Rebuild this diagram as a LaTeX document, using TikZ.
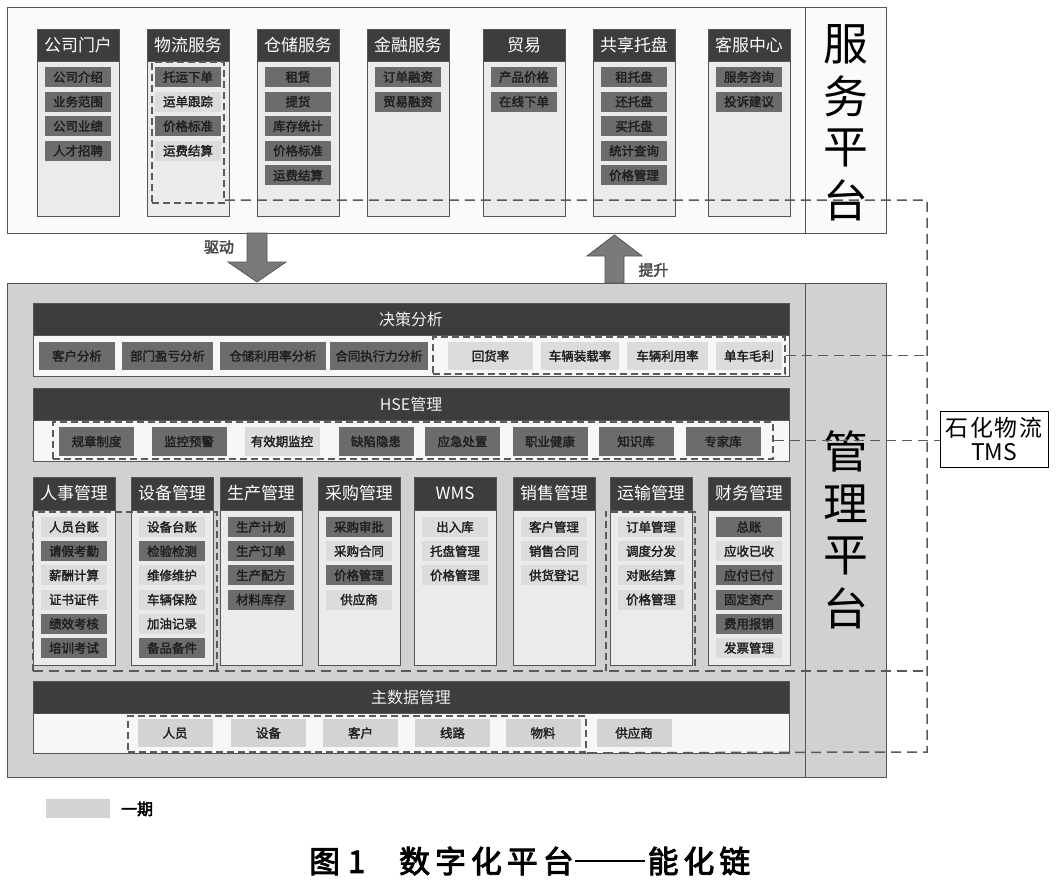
\documentclass[tikz,border=0pt]{standalone}
\usepackage{fontspec}
\setmainfont{Noto Sans CJK SC}
\newfontfamily\mfont[FakeBold=2.2]{Noto Sans CJK SC}
\newfontfamily\hfont[FakeBold=3]{Noto Sans CJK SC}
\usetikzlibrary{calc}
\definecolor{hdr}{HTML}{3D3D3D}
\definecolor{drk}{HTML}{6C6C6C}
\definecolor{lgt}{HTML}{DCDCDC}
\definecolor{colbg}{HTML}{EBEBEB}
\definecolor{mgbg}{HTML}{D1D1D1}
\definecolor{edge}{HTML}{555555}
\definecolor{busc}{HTML}{5A5A5A}
\definecolor{arrc}{HTML}{7A7A7A}
\newcommand\rbox[7]{%
  \pgfmathsetmacro\rbw{#4-#2}\pgfmathsetmacro\rbh{#5-#3}%
  \node[#6, minimum width=\rbw bp, minimum height=\rbh bp, inner sep=0pt] (#1) at ({(#2+#4)/2},{(#3+#5)/2}) {#7};}
\newcommand\ck{\kern5bp}
\begin{document}
\begin{tikzpicture}[x=1bp,y=-1bp,
  colhead/.style={fill=hdr, draw=edge, line width=0.8bp, text=white, font=\fontsize{17}{17}\selectfont},
  colbody/.style={fill=colbg, draw=edge, line width=0.8bp},
  itemd/.style={fill=drk, text=black!88, font=\mfont\fontsize{12.5}{12.5}\selectfont, minimum height=20bp, inner sep=0pt},
  iteml/.style={fill=lgt, text=black!88, font=\mfont\fontsize{12.5}{12.5}\selectfont, minimum height=20bp, inner sep=0pt},
  bandhead/.style={fill=hdr, draw=edge, line width=0.8bp, text=white!94!black, font=\fontsize{16}{16}\selectfont},
  bandrow/.style={fill=white!97!black, draw=edge, line width=0.8bp},
  regdash/.style={draw=busc, line width=1.6bp, dash pattern=on 7bp off 4bp},
  bus/.style={draw=busc, line width=1.5bp, dash pattern=on 10bp off 6bp},
  bigtxt/.style={font=\fontsize{45}{45}\selectfont, text=black, inner sep=0pt},
  lbl/.style={font=\hfont\fontsize{15}{15}\selectfont, text=black!70},
  panel/.style={draw=edge, line width=1bp}]
\useasboundingbox (0,0) rectangle (1056,888);
\fill[white] (0,0) rectangle (1056,888);
% ---------- service platform
\rbox{svc}{8}{8}{886}{233}{panel, fill=white!98!black}{}
\rbox{svcr}{805}{8}{886}{233}{panel}{}
\foreach \ch [count=\i] in {服,务,平,台} \node[bigtxt] (sv\i) at (845.5,{44+52*(\i-1)}) {\ch};
\foreach \x/\h [count=\c] in {37/公司门户,147/物流服务,257/仓储服务,367/金融服务,483/贸易,593/共享托盘,708/客服中心} {
  \rbox{sb\c}{\x}{61}{\x+82}{216}{colbody}{}
  \rbox{sh\c}{\x}{29}{\x+82}{61}{colhead}{\h}
}
\newcommand\sitems[3]{\foreach \t/\k [count=\i] in {#3} {\node[item\k, minimum width=66bp] (s#1i\i) at (#2,{77+24.6*(\i-1)}) {\t};}}
\sitems{1}{78}{公司介绍/d,业务范围/d,公司业绩/d,人才招聘/d}
\sitems{2}{188}{托运下单/d,运单跟踪/l,价格标准/d,运费结算/l}
\sitems{3}{298}{租赁/d,提货/d,库存统计/d,价格标准/d,运费结算/d}
\sitems{4}{408}{订单融资/d,贸易融资/d}
\sitems{5}{524}{产品价格/d,在线下单/d}
\sitems{6}{634}{租托盘/d,还托盘/d,买托盘/d,统计查询/d,价格管理/d}
\sitems{7}{749}{服务咨询/d,投诉建议/d}
% ---------- arrows
\draw[draw=edge, fill=arrc, line width=0.8bp] (247,233) -- (267,233) -- (267,262) -- (286,262) -- (257,282) -- (228,262) -- (247,262) -- cycle;
\node[lbl] (drv) at (219,247) {驱动};
% ---------- management platform
\rbox{mg}{8}{283}{886}{777}{panel, fill=mgbg}{}
\rbox{mgr}{805}{283}{886}{777}{panel}{}
\draw[draw=edge, fill=arrc, line width=0.8bp] (605,283) -- (624,283) -- (624,256) -- (642,256) -- (614.5,235) -- (587,256) -- (605,256) -- cycle;
\node[lbl] (upl) at (653.5,270) {提升};
\foreach \ch [count=\i] in {管,理,平,台} \node[bigtxt] (mp\i) at (845.5,{451+52.3*(\i-1)}) {\ch};
% decision band
\rbox{dcr}{33}{335}{789}{376}{bandrow}{}
\rbox{dch}{33}{303}{789}{335}{bandhead}{决策分析}
\foreach \cx/\w/\t/\k [count=\i] in {77/76/客户分析/d,167.5/91/部门盈亏分析/d,273/106/仓储利用率分析/d,379/98/合同执行力分析/d,490.5/85/回货率/l,580/78/车辆装载率/l,667.5/81/车辆利用率/l,749/66/单车毛利/l}
  \node[item\k, minimum width=\w bp, minimum height=28bp] (dc\i) at (\cx,356) {\t};
% HSE band
\rbox{hsr}{33}{420}{789}{461}{bandrow}{}
\rbox{hsh}{33}{388}{789}{420}{bandhead}{HSE管理}
\foreach \cx/\t/\k [count=\i] in {96.5/规章制度/d,189/监控预警/d,282/有效期监控/l,376/缺陷隐患/d,462.5/应急处置/d,550/职业健康/d,636/知识库/d,723/专家库/d}
  \node[item\k, minimum width=75bp, minimum height=29bp] (hs\i) at (\cx,441.5) {\t};
% modules
\foreach \x/\h [count=\c] in {33/人事管理,131/设备管理,220/生产管理,318/采购管理,414/WMS,513/销售管理,610/运输管理,708/财务管理} {
  \rbox{mb\c}{\x}{510}{\x+82}{665}{colbody}{}
  \rbox{mh\c}{\x}{477}{\x+82}{510}{colhead}{\h}
}
\newcommand\mitems[3]{\foreach \t/\k [count=\i] in {#3} {\node[item\k, minimum width=66bp] (m#1i\i) at (#2,{527+24.2*(\i-1)}) {\t};}}
\mitems{1}{74}{人员台账/l,请假考勤/d,薪酬计算/l,证书证件/l,绩效考核/d,培训考试/d}
\mitems{2}{172}{设备台账/l,检验检测/d,维修维护/l,车辆保险/l,加油记录/l,备品备件/d}
\mitems{3}{261}{生产计划/d,生产订单/d,生产配方/d,材料库存/d}
\mitems{4}{359}{采购审批/d,采购合同/l,价格管理/d,供应商/l}
\mitems{5}{455}{出入库/l,托盘管理/l,价格管理/l}
\mitems{6}{554}{客户管理/l,销售合同/l,供货登记/l}
\mitems{7}{651}{订单管理/l,调度分发/l,对账结算/l,价格管理/l}
\mitems{8}{749}{总账/d,应收已收/l,应付已付/d,固定资产/d,费用报销/d,发票管理/l}
% master data band
\rbox{mdr}{33}{713}{789}{753}{bandrow}{}
\rbox{mdh}{33}{681}{789}{713}{bandhead}{主数据管理}
\foreach \cx/\t [count=\i] in {175/人员,268.5/设备,360.5/客户,452.5/线路,543/物料,634/供应商}
  \node[iteml, fill=lgt!96!black, minimum width=75bp, minimum height=28bp] (md\i) at (\cx,733) {\t};
% ---------- dashed regions
\rbox{wlr}{152}{62}{224}{203}{regdash}{}
\rbox{dcreg}{433}{337}{785}{374}{regdash}{}
\rbox{hsreg}{53}{422}{773}{459}{regdash}{}
\rbox{mdreg}{128}{716}{586}{752}{regdash}{}
\rbox{hrreg}{33}{512}{217}{671}{}{}
\rbox{trreg}{606}{512}{695}{671}{}{}
\draw[regdash] (hrreg.south west) -- (hrreg.north west) -- (hrreg.north east) -- (hrreg.south east);
\draw[regdash] (trreg.south west) -- (trreg.north west) -- (trreg.north east) -- (trreg.south east);
% ---------- TMS and bus
\node[draw=black, line width=1bp, fill=white, minimum width=108bp, minimum height=56bp, inner sep=0pt, align=center, font=\fontsize{23}{25}\selectfont] (tms) at (994,439) {石\kern2bp 化\kern2bp 物\kern2bp 流\\TMS};
\coordinate (bT) at (927,200);
\coordinate (bB) at (927,752);
\draw[bus] (wlr.south east |- bT) -- (bT) -- (bB) -- (mdreg.south east);
\draw[bus] (dcreg.east) -- (dcreg.east -| bT);
\draw[bus] (hsreg.east) -- (hsreg.east -| tms.west);
\draw[bus] (hrreg.south west) -- (hrreg.south west -| bT);
% ---------- legend and caption
\node[fill=lgt!96!black, minimum width=64bp, minimum height=19bp, inner sep=0pt] (lgbox) at (78,808.5) {};
\node[anchor=west, font=\hfont\fontsize{16}{16}\selectfont, inner sep=0pt] (lgtxt) at (121,809) {一期};
\node[anchor=west, font=\hfont\fontsize{31}{31}\selectfont, inner sep=0pt] (cap) at (309,861) {图\kern8bp 1\kern34bp 数\ck 字\ck 化\ck 平\ck 台\kern1bp\rule[10.5bp]{70bp}{2.6bp}\kern3bp 能\ck 化\ck 链};
\end{tikzpicture}
\end{document}
